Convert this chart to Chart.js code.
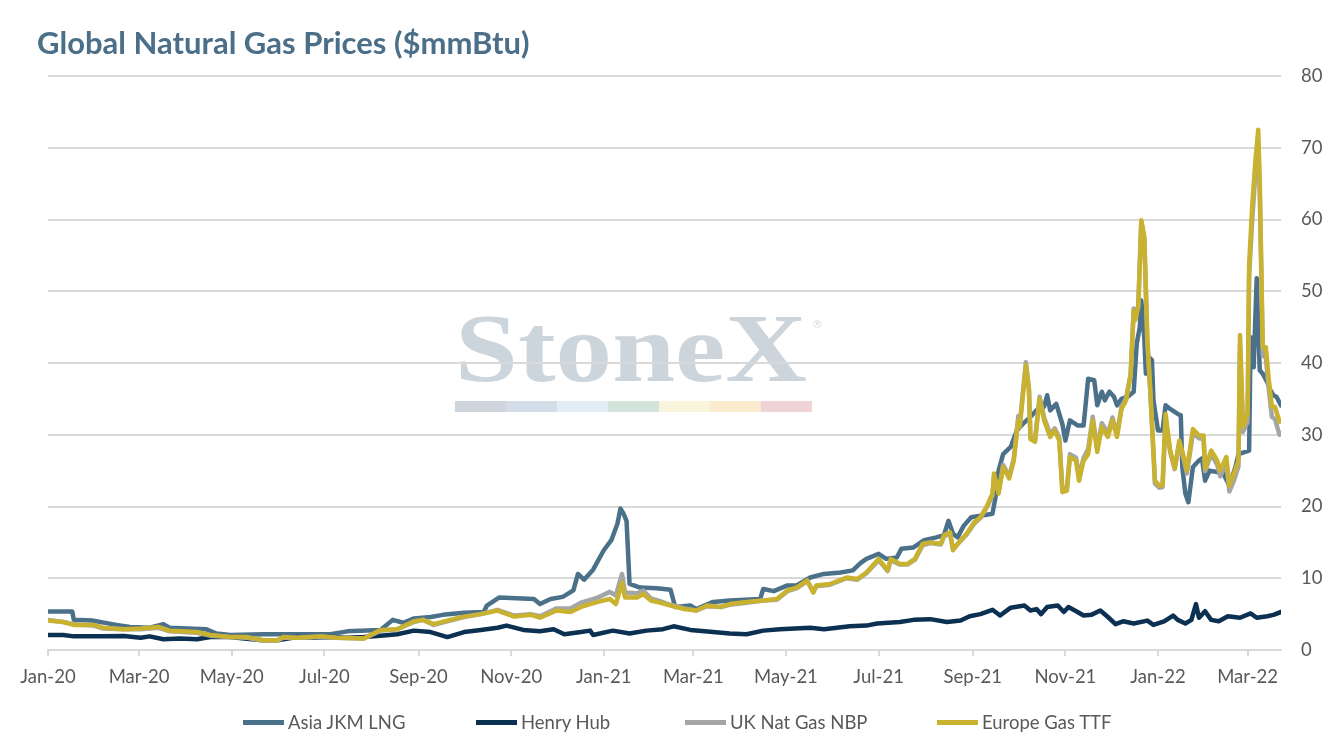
<!DOCTYPE html>
<html>
<head>
<meta charset="utf-8">
<title>Global Natural Gas Prices</title>
<script src="https://cdn.jsdelivr.net/npm/chart.js@4.4.1/dist/chart.umd.min.js"></script>
<style>
  html, body { margin: 0; padding: 0; background: #fff; }
  #wrap { position: relative; width: 1341px; height: 750px; font-family: Lato, "Open Sans", sans-serif; }
  #chart { position: absolute; left: 0; top: 0; }
  #title { position: absolute; left: 37px; top: 23px; font-size: 31px; font-weight: 700; color: #4b6f89; white-space: nowrap; line-height: 38px; }
  .legend-item { position: absolute; top: 710px; height: 24px; display: flex; align-items: center; font-size: 18.5px; color: #595959; white-space: nowrap; }
  .legend-item .line { display: inline-block; width: 41px; height: 5px; margin-right: 4px; }
</style>
</head>
<body>
<div id="wrap">
  <canvas id="chart" width="1341" height="750"></canvas>
  <div id="title">Global Natural Gas Prices ($mmBtu)</div>
  <div id="legend"></div>
</div>
<script>
// days counted from 1 Jan 2020
const tickDays = [0, 60, 121, 182, 244, 305, 366, 425, 486, 547, 609, 670, 731, 790];
const tickLabels = ["Jan-20", "Mar-20", "May-20", "Jul-20", "Sep-20", "Nov-20", "Jan-21",
  "Mar-21", "May-21", "Jul-21", "Sep-21", "Nov-21", "Jan-22", "Mar-22"];

const seriesNames = ["Asia JKM LNG", "Henry Hub", "UK Nat Gas NBP", "Europe Gas TTF"];
const seriesColors = ["#4b7089", "#0c3052", "#a3a5a7", "#c9b22f"];

const jkmDays = [0, 16, 17, 29, 45, 54, 67, 76, 80, 104, 111, 120, 142, 164, 186, 197, 219, 227, 234, 241,
  252, 260, 274, 287, 289, 297, 320, 324, 331, 339, 346, 349, 353, 359, 366, 371, 375, 377, 379, 381,
  383, 390, 401, 410, 413, 423, 427, 438, 449, 469, 471, 478, 487, 493, 502, 511, 522, 530, 535, 539,
  547, 552, 559, 562, 570, 577, 585, 590, 593, 596, 599, 603, 608, 614, 622, 624, 626, 629, 634, 638,
  642, 647, 651, 656, 658, 660, 664, 668, 670, 673, 678, 682, 685, 689, 691, 694, 696, 699, 702, 704,
  707, 711, 715, 717, 719, 720, 722, 723, 725, 727, 728, 731, 734, 736, 739, 744, 746, 747, 749, 751,
  754, 758, 760, 762, 765, 770, 774, 778, 782, 784, 791, 792, 794, 796, 798, 800, 803, 805, 807, 809, 812];
const jkmValues = [5.35, 5.35, 4.2, 4.1, 3.5, 3.2, 3.1, 3.6, 3.1, 2.9, 2.3, 2.1, 2.2, 2.2, 2.2, 2.6, 2.8, 4.2, 3.8, 4.4,
  4.6, 4.9, 5.2, 5.3, 6.2, 7.3, 7.1, 6.4, 7.1, 7.4, 8.3, 10.6, 9.8, 11.2, 13.9, 15.3, 17.6, 19.7, 19.0, 18.0,
  9.2, 8.7, 8.6, 8.4, 6.0, 6.2, 5.7, 6.7, 6.9, 7.1, 8.5, 8.2, 9.0, 9.0, 10.1, 10.6, 10.8, 11.1, 12.1, 12.7,
  13.4, 12.7, 12.9, 14.1, 14.3, 15.3, 15.7, 16.0, 18.0, 16.2, 15.7, 17.3, 18.5, 18.7, 19.0, 21.3, 25.0, 27.3, 28.3, 30.6,
  31.5, 32.5, 33.4, 33.9, 35.5, 33.4, 34.3, 31.5, 29.2, 32.0, 31.3, 31.3, 37.8, 37.6, 34.1, 36.0, 34.8, 36.0, 35.3, 34.1,
  35.0, 35.3, 36.0, 42.7, 45.0, 48.7, 43.4, 38.5, 40.8, 40.4, 34.8, 30.6, 30.6, 34.1, 33.6, 32.9, 32.7, 25.5, 21.8, 20.6,
  25.5, 26.4, 26.7, 23.6, 25.0, 24.8, 24.6, 22.9, 25.5, 27.3, 27.8, 43.6, 39.4, 51.8, 39.0, 38.5, 37.3, 36.2, 35.5, 35.3, 34.1];

const hhDays = [0, 10, 17, 36, 50, 61, 67, 76, 87, 98, 107, 120, 131, 145, 152, 164, 175, 186, 197, 208,
  219, 230, 241, 252, 263, 274, 285, 296, 302, 313, 324, 333, 340, 351, 357, 359, 372, 383, 394, 405,
  412, 423, 438, 449, 460, 471, 482, 502, 511, 528, 539, 546, 561, 570, 581, 592, 601, 607, 614, 622,
  627, 634, 643, 647, 651, 654, 658, 665, 669, 672, 678, 682, 687, 693, 698, 703, 708, 715, 724, 728,
  735, 741, 744, 749, 753, 756, 758, 762, 766, 771, 777, 785, 792, 796, 803, 807, 812];
const hhValues = [2.1, 2.1, 1.9, 1.9, 1.95, 1.7, 1.9, 1.5, 1.6, 1.5, 1.8, 1.8, 1.55, 1.3, 1.4, 1.8, 1.7, 1.8, 1.7, 1.8,
  2.0, 2.2, 2.7, 2.5, 1.8, 2.5, 2.8, 3.1, 3.4, 2.8, 2.6, 2.9, 2.2, 2.5, 2.7, 2.1, 2.7, 2.3, 2.7, 2.9,
  3.3, 2.8, 2.5, 2.3, 2.2, 2.7, 2.9, 3.1, 2.9, 3.3, 3.4, 3.7, 3.9, 4.2, 4.3, 3.9, 4.1, 4.7, 5.0, 5.6,
  4.8, 5.9, 6.2, 5.5, 5.7, 5.0, 6.0, 6.2, 5.3, 6.0, 5.3, 4.8, 4.9, 5.5, 4.6, 3.6, 4.0, 3.7, 4.1, 3.5,
  4.0, 4.8, 4.2, 3.7, 4.2, 6.4, 4.5, 5.4, 4.2, 4.0, 4.7, 4.5, 5.1, 4.5, 4.7, 4.9, 5.3];

// UK NBP and Dutch TTF share the same dates
const euDays = [0, 10, 17, 30, 36, 50, 61, 73, 80, 98,
  107, 120, 131, 142, 151, 155, 164, 181, 190, 208,
  219, 230, 241, 247, 254, 263, 274, 285, 296, 307,
  318, 324, 335, 344, 351, 362, 370, 374, 378, 380,
  388, 392, 397, 403, 410, 419, 427, 434, 443, 449,
  460, 471, 480, 487, 493, 500, 504, 506, 515, 526,
  533, 539, 547, 553, 555, 561, 566, 571, 576, 581,
  588, 590, 594, 596, 601, 605, 610, 614, 618, 622,
  623, 626, 629, 633, 636, 639, 640, 644, 646, 647,
  650, 653, 656, 660, 663, 666, 668, 671, 673, 677,
  679, 682, 685, 688, 691, 694, 698, 701, 704, 707,
  710, 713, 715, 716, 718, 720, 722, 724, 726, 729,
  732, 734, 736, 739, 742, 745, 748, 750, 754, 758,
  761, 762, 766, 770, 772, 776, 778, 781, 784, 785,
  787, 790, 791, 793, 795, 797, 798, 800, 802, 804,
  806, 808, 811, 812];
const ttfValues = [4.1, 3.9, 3.5, 3.5, 3.1, 2.9, 3.0, 3.2, 2.7, 2.5,
  2.1, 1.8, 1.8, 1.35, 1.35, 1.8, 1.7, 1.9, 1.7, 1.6,
  2.8, 2.9, 4.0, 4.2, 3.6, 4.1, 4.65, 5.0, 5.5, 4.65,
  4.9, 4.5, 5.5, 5.3, 6.0, 6.7, 7.1, 6.4, 9.4, 7.3,
  7.3, 7.8, 6.9, 6.6, 6.2, 5.7, 5.5, 6.2, 6.0, 6.4,
  6.7, 6.9, 7.1, 8.3, 8.7, 9.7, 8.0, 9.0, 9.2, 10.1,
  9.9, 10.8, 12.7, 11.1, 12.7, 12.0, 12.0, 12.7, 14.8, 15.0,
  14.8, 16.0, 16.4, 13.9, 15.3, 16.2, 17.8, 18.5, 19.9, 21.8,
  24.6, 21.8, 25.5, 23.9, 26.4, 32.0, 31.1, 39.7, 36.2, 29.4,
  29.0, 35.0, 32.0, 29.7, 30.6, 29.2, 22.0, 22.2, 26.9, 26.4,
  23.6, 26.4, 27.3, 32.0, 27.6, 31.1, 29.7, 32.0, 29.7, 33.6,
  34.8, 38.5, 47.3, 46.0, 47.8, 59.9, 57.6, 43.2, 36.0, 23.6,
  22.9, 23.0, 32.9, 27.8, 25.3, 29.2, 26.9, 25.0, 30.8, 29.9,
  29.9, 25.3, 27.8, 26.4, 25.0, 26.9, 22.9, 24.6, 26.4, 43.9,
  31.1, 32.9, 53.6, 61.8, 67.8, 72.5, 65.5, 42.2, 42.2, 37.6,
  33.9, 33.9, 31.8, 32.0];
const nbpValues = [4.2, 3.9, 3.6, 3.4, 3.0, 2.9, 2.9, 3.1, 2.6, 2.4,
  2.0, 1.8, 1.7, 1.3, 1.3, 1.7, 1.7, 1.8, 1.7, 1.6,
  2.7, 2.9, 3.9, 4.2, 3.5, 4.0, 4.6, 5.0, 5.6, 4.8,
  5.0, 4.7, 5.8, 5.8, 6.6, 7.3, 8.1, 7.6, 10.6, 8.0,
  7.9, 8.3, 7.2, 6.8, 6.3, 5.8, 5.5, 6.1, 6.0, 6.3,
  6.6, 6.9, 7.0, 8.2, 8.6, 9.6, 8.1, 8.9, 9.1, 10.0,
  9.8, 10.7, 12.5, 11.0, 12.5, 11.9, 11.9, 12.6, 14.6, 14.9,
  14.7, 15.8, 16.3, 14.1, 15.2, 16.1, 17.6, 18.4, 19.8, 21.5,
  24.2, 22.0, 25.8, 24.2, 26.6, 32.6, 31.6, 40.1, 36.5, 29.7,
  29.3, 35.3, 32.4, 30.1, 30.9, 29.6, 22.4, 22.6, 27.3, 26.8,
  24.1, 26.8, 28.0, 32.5, 28.1, 31.6, 30.2, 32.4, 30.1, 33.9,
  35.1, 38.4, 47.6, 46.4, 47.9, 59.7, 57.0, 42.8, 35.6, 23.2,
  22.6, 22.7, 32.2, 27.6, 25.2, 28.8, 26.5, 24.6, 30.2, 29.5,
  29.4, 24.9, 27.3, 25.8, 24.2, 26.1, 22.1, 23.6, 25.6, 42.5,
  30.4, 31.8, 52.0, 59.8, 66.0, 70.4, 63.8, 41.0, 40.8, 36.2,
  32.5, 32.2, 30.0, 30.2];

function points(days, values) {
  return days.map((d, i) => ({ x: d, y: values[i] }));
}

// faint StoneX logo behind the grid
const watermark = {
  id: "watermark",
  beforeDraw(chart) {
    const ctx = chart.ctx;
    ctx.save();
    ctx.fillStyle = "#cdd5dc";
    ctx.font = 'bold 98px "Liberation Serif"';
    const w = ctx.measureText("StoneX").width;
    ctx.translate(455, 381);
    ctx.scale(352 / w, 1);
    ctx.fillText("StoneX", 0, 0);
    ctx.restore();

    ctx.save();
    ctx.fillStyle = "#d5dbe0";
    ctx.font = '11px "DejaVu Sans"';
    ctx.fillText("\u00AE", 812, 328);
    const bars = ["#cfd5dc", "#d3dde8", "#e3edf6", "#d3e2da", "#f8f5dc", "#fbecd0", "#efd3d6"];
    bars.forEach((c, i) => {
      ctx.fillStyle = c;
      ctx.fillRect(455 + i * 51, 401, 51, 11);
    });
    ctx.restore();
  }
};

const ctx = document.getElementById("chart").getContext("2d");
new Chart(ctx, {
  type: "line",
  data: {
    datasets: [
      { label: seriesNames[0], data: points(jkmDays, jkmValues), borderColor: seriesColors[0], order: 4 },
      { label: seriesNames[1], data: points(hhDays, hhValues), borderColor: seriesColors[1], order: 3 },
      { label: seriesNames[2], data: points(euDays, nbpValues), borderColor: seriesColors[2], order: 2 },
      { label: seriesNames[3], data: points(euDays, ttfValues), borderColor: seriesColors[3], order: 1 }
    ]
  },
  options: {
    responsive: false,
    animation: false,
    layout: { padding: { left: 48, top: 76, right: 0, bottom: 0 } },
    plugins: {
      legend: { display: false },
      tooltip: { enabled: false },
      title: { display: false }
    },
    elements: {
      point: { radius: 0 },
      line: { borderWidth: 4.5, tension: 0, borderJoinStyle: "round", borderCapStyle: "round" }
    },
    scales: {
      x: {
        type: "linear",
        min: 0,
        max: 812,
        afterBuildTicks: s => { s.ticks = tickDays.map(v => ({ value: v })); },
        afterFit: s => { s.height = 100; },
        ticks: {
          autoSkip: false,
          maxRotation: 0,
          padding: 10,
          color: "#595959",
          font: { family: "Lato", size: 18.5 },
          callback: v => tickLabels[tickDays.indexOf(v)]
        },
        grid: { drawOnChartArea: false, drawTicks: true, tickLength: 6, color: "#d9d9d9", lineWidth: 2 },
        border: { display: true, color: "#d9d9d9", width: 2 }
      },
      y: {
        position: "right",
        min: 0,
        max: 80,
        afterFit: s => { s.width = 60; },
        ticks: { stepSize: 10, padding: 20, color: "#595959", font: { family: "Lato", size: 18.5 } },
        grid: { color: "#d9d9d9", lineWidth: 2, drawTicks: false },
        border: { display: false }
      }
    }
  },
  plugins: [watermark]
});

// legend
const legendLeft = [243, 476, 685, 937];
const legend = document.getElementById("legend");
seriesNames.forEach((name, i) => {
  const item = document.createElement("div");
  item.className = "legend-item";
  item.style.left = legendLeft[i] + "px";
  const line = document.createElement("span");
  line.className = "line";
  line.style.background = seriesColors[i];
  item.appendChild(line);
  item.appendChild(document.createTextNode(name));
  legend.appendChild(item);
});
</script>
</body>
</html>
